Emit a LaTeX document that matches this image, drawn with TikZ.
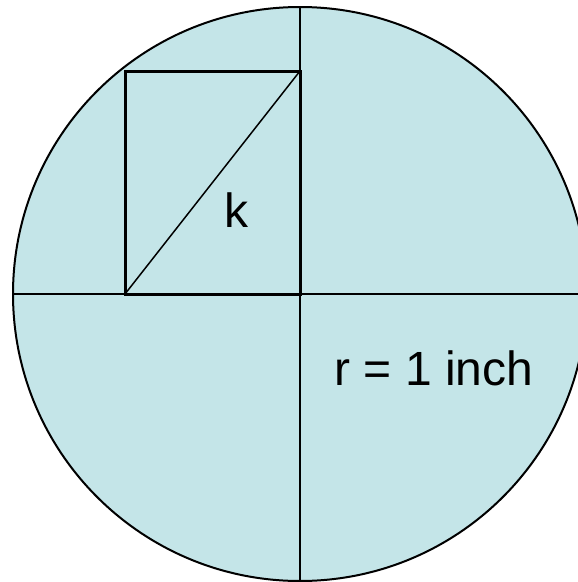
\documentclass[tikz,border=0pt]{standalone}
\usepackage{fontspec}
\setmainfont{Liberation Sans}
\definecolor{disk}{HTML}{C4E5E8}
\begin{document}
\begin{tikzpicture}[x=1pt,y=-1pt,
  thinline/.style={line width=1.5pt,black},
  boxline/.style={line width=3pt,black,line join=miter},
  lbl/.style={font=\fontsize{48}{56}\selectfont,inner sep=0pt}]
\useasboundingbox (0,0) rectangle (578,582);
\clip (0,0) rectangle (578,582);
\coordinate (c) at (300,294);
\fill[disk] (c) circle[radius=287];
\draw[line width=2pt] (c) circle[radius=287];
\coordinate (top) at (300,7);
\coordinate (bot) at (300,581);
\coordinate (lft) at (13,294);
\coordinate (rgt) at (587,294);
\draw[thinline] (top) -- (bot);
\draw[thinline] (lft) -- (rgt);
\coordinate (bl) at (125,294);
\coordinate (tr) at (300,71);
\draw[boxline] (bl) rectangle (tr);
\draw[thinline] (bl) -- (tr);
\node[lbl] (k) at (236,210) {k};
\node[lbl] (r) at (434,368) {r = 1 inch};
\end{tikzpicture}
\end{document}
